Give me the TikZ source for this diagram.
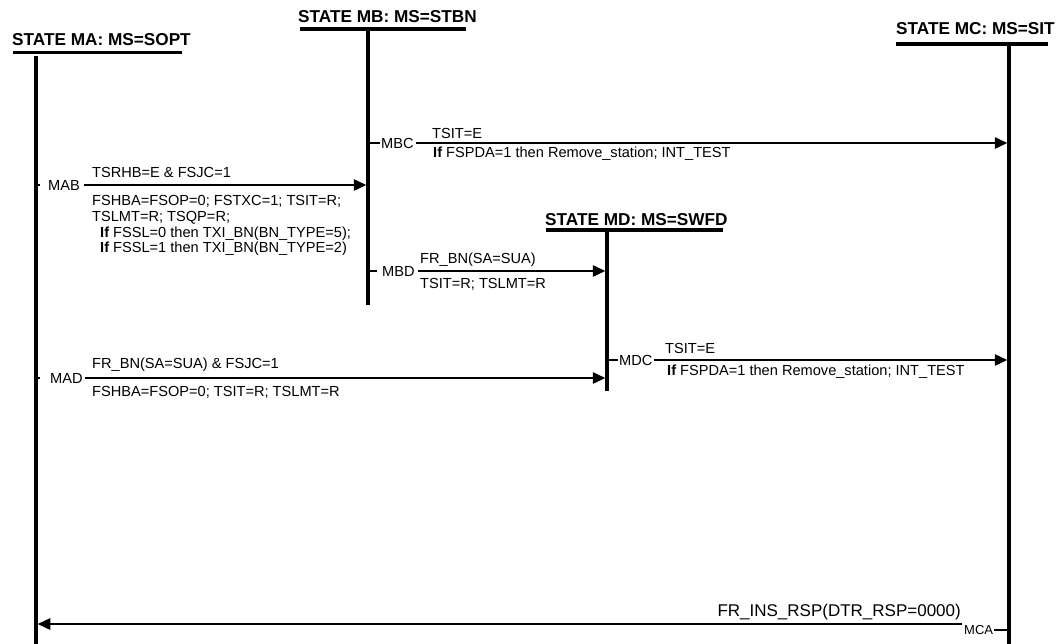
\documentclass[tikz,border=0pt]{standalone}
\usepackage{fontspec}
\setmainfont{Liberation Sans}
\usetikzlibrary{arrows.meta}
\newcommand\hdrfont{\fontsize{17.2}{19}\selectfont\bfseries}
\newcommand\msgfont{\fontsize{14.6}{16}\selectfont}
\newcommand\rspfont{\fontsize{17}{19}\selectfont}
\newcommand\mcafont{\fontsize{13}{14}\selectfont}
\tikzset{
  lifeline/.style={line width=3.5pt},
  headline/.style={line width=3.5pt},
  msg/.style={line width=1.4pt,-{Triangle[length=12.5pt,width=11.5pt]},shorten >=1.75pt},
  tickline/.style={line width=1.3pt},
  head/.style={font=\hdrfont,anchor=base west,inner sep=0pt},
  lbl/.style={font=\msgfont,anchor=west,inner sep=0pt},
  txt/.style={font=\msgfont,anchor=base west,inner sep=0pt},
}
\begin{document}
\begin{tikzpicture}[x=1pt,y=-1pt]
\path[use as bounding box,fill=white] (0,0) rectangle (1060,643);

% ---- headers and lifelines
\node[head] (hMA) at (12,45) {STATE MA: MS=SOPT};
\coordinate (uMA1) at (13,52.5); \coordinate (uMA2) at (182,52.5);
\draw[headline] (uMA1) -- (uMA2);
\coordinate (MAt) at (36,56); \coordinate (MAb) at (36,645);
\draw[lifeline] (MAt) -- (MAb);

\node[head] (hMB) at (298,22) {STATE MB: MS=STBN};
\coordinate (uMB1) at (300,29); \coordinate (uMB2) at (466,29);
\draw[headline] (uMB1) -- (uMB2);
\coordinate (MBt) at (368,29); \coordinate (MBb) at (368,305);
\draw[lifeline] (MBt) -- (MBb);

\node[head] (hMC) at (896,34) {STATE MC: MS=SIT};
\coordinate (uMC1) at (896,44); \coordinate (uMC2) at (1048,44);
\draw[headline] (uMC1) -- (uMC2);
\coordinate (MCt) at (1009,44); \coordinate (MCb) at (1009,645);
\draw[lifeline] (MCt) -- (MCb);

\node[head] (hMD) at (545,225) {STATE MD: MS=SWFD};
\coordinate (uMD1) at (546,230); \coordinate (uMD2) at (723,230);
\draw[headline] (uMD1) -- (uMD2);
\coordinate (MDt) at (607,230); \coordinate (MDb) at (607,391);
\draw[lifeline] (MDt) -- (MDb);

% ---- MBC
\node[lbl] (MBC) at (381,143) {MBC};
\draw[tickline] (MBC.west -| MBt) -- ([xshift=-1.5pt]MBC.west);
\draw[msg] ([xshift=2pt]MBC.east) -- (MBC.east -| MCt);
\node[txt] (MBCa) at (432,138) {TSIT=E};
\node[txt] (MBCb) at (433,157) {{\bfseries If} FSPDA=1 then Remove\_station; INT\_TEST};

% ---- MAB
\node[lbl] (MAB) at (48,185) {MAB};
\draw[tickline] (MAB.west -| MAt) -- ([xshift=-8pt]MAB.west);
\draw[msg] ([xshift=4pt]MAB.east) -- (MAB.east -| MBt);
\node[txt] (MABa) at (92,177) {TSRHB=E \& FSJC=1};
\node[txt] (MABb) at (92,205) {FSHBA=FSOP=0; FSTXC=1; TSIT=R;};
\node[txt] (MABc) at (92,221) {TSLMT=R; TSQP=R;};
\node[txt] (MABd) at (100,237) {{\bfseries If} FSSL=0 then TXI\_BN(BN\_TYPE=5);};
\node[txt] (MABe) at (100,252) {{\bfseries If} FSSL=1 then TXI\_BN(BN\_TYPE=2)};

% ---- MBD
\node[lbl] (MBD) at (382,271) {MBD};
\draw[tickline] (MBD.west -| MBt) -- ([xshift=-5pt]MBD.west);
\draw[msg] ([xshift=3pt]MBD.east) -- (MBD.east -| MDt);
\node[txt] (MBDa) at (420,263) {FR\_BN(SA=SUA)};
\node[txt] (MBDb) at (420,288) {TSIT=R; TSLMT=R};

% ---- MAD
\node[lbl] (MAD) at (50,378) {MAD};
\draw[tickline] (MAD.west -| MAt) -- ([xshift=-10pt]MAD.west);
\draw[msg] ([xshift=2pt]MAD.east) -- (MAD.east -| MDt);
\node[txt] (MADa) at (92,368) {FR\_BN(SA=SUA) \& FSJC=1};
\node[txt] (MADb) at (92,396) {FSHBA=FSOP=0; TSIT=R; TSLMT=R};

% ---- MDC
\node[lbl] (MDC) at (619,360) {MDC};
\draw[tickline] (MDC.west -| MDt) -- ([xshift=-1.5pt]MDC.west);
\draw[msg] ([xshift=1.5pt]MDC.east) -- (MDC.east -| MCt);
\node[txt] (MDCa) at (665,353) {TSIT=E};
\node[txt] (MDCb) at (667,375) {{\bfseries If} FSPDA=1 then Remove\_station; INT\_TEST};

% ---- MCA
\node[lbl,font=\mcafont] (MCA) at (964,630) {MCA};
\draw[tickline] ([xshift=1pt]MCA.east) -- (MCA.east -| MCt);
\coordinate (MCAs) at (962,624);
\draw[msg] (MCAs) -- (MCAs -| MAt);
\node[font=\rspfont,anchor=base east,inner sep=0pt] (MCAa) at (961,616) {FR\_INS\_RSP(DTR\_RSP=0000)};
\end{tikzpicture}
\end{document}
